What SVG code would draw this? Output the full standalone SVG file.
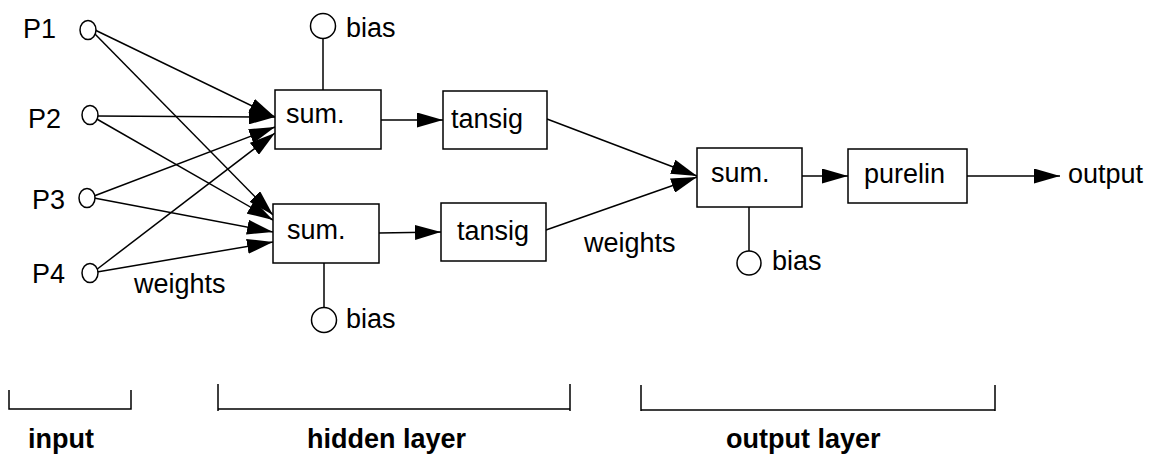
<svg xmlns="http://www.w3.org/2000/svg" width="1153" height="455" viewBox="0 0 1153 455">
<style>
  .t { font-family: "Liberation Sans", Arial, sans-serif; font-size: 27px; fill: #000; }
  .b { font-family: "Liberation Sans", Arial, sans-serif; font-size: 27px; font-weight: bold; fill: #000; }
  .box { fill: #fff; stroke: #000; stroke-width: 1.5; }
  .c { fill: #fff; stroke: #000; stroke-width: 1.5; }
  .ln { fill: none; stroke: #000; stroke-width: 1.5; }
  .ar { fill: none; stroke: #000; stroke-width: 1.5; marker-end: url(#ah); }
</style>
<defs>
  <marker id="ah" markerUnits="userSpaceOnUse" markerWidth="27" markerHeight="15" refX="26" refY="7.5" orient="auto">
    <path d="M0,0 L26,7.5 L0,15 z" fill="#000"/>
  </marker>
</defs>
<rect width="1153" height="455" fill="#fff"/>

<g id="connectors">
  <line class="ar" x1="95" y1="30" x2="275" y2="117"/>
  <line class="ar" x1="93" y1="32" x2="273" y2="215"/>
  <line class="ar" x1="97" y1="116" x2="275" y2="117"/>
  <line class="ar" x1="95" y1="118" x2="273" y2="220"/>
  <line class="ar" x1="94" y1="196" x2="275" y2="127"/>
  <line class="ar" x1="94" y1="198" x2="273" y2="232"/>
  <line class="ar" x1="96" y1="270" x2="275" y2="133"/>
  <line class="ar" x1="97" y1="272" x2="273" y2="242"/>
  <line class="ar" x1="381" y1="120" x2="443" y2="120"/>
  <line class="ar" x1="379" y1="233" x2="441" y2="232"/>
  <line class="ar" x1="547" y1="119" x2="697" y2="176"/>
  <line class="ar" x1="546" y1="230" x2="697" y2="177"/>
  <line class="ar" x1="802" y1="176" x2="848" y2="176"/>
  <line class="ar" x1="967" y1="176" x2="1060" y2="176"/>
  <line class="ln" x1="323" y1="39" x2="323" y2="90"/>
  <line class="ln" x1="324" y1="263" x2="324" y2="308"/>
  <line class="ln" x1="749" y1="207" x2="749" y2="251"/>
</g>

<g id="p1"><ellipse class="c" cx="88" cy="30" rx="8" ry="9.5"/><text class="t" x="23" y="38">P1</text></g>
<g id="p2"><ellipse class="c" cx="90" cy="115" rx="8" ry="9.5"/><text class="t" x="28" y="128">P2</text></g>
<g id="p3"><ellipse class="c" cx="87" cy="198" rx="8" ry="9.5"/><text class="t" x="32" y="209">P3</text></g>
<g id="p4"><ellipse class="c" cx="90" cy="273" rx="8" ry="9.5"/><text class="t" x="32" y="283">P4</text></g>

<g id="bias1"><circle class="c" cx="323" cy="26" r="12.5"/><text class="t" x="346" y="37">bias</text></g>
<g id="bias2"><circle class="c" cx="324" cy="320" r="12.5"/><text class="t" x="346" y="328">bias</text></g>
<g id="bias3"><circle class="c" cx="749" cy="263" r="12"/><text class="t" x="772" y="270">bias</text></g>

<g id="sum1"><rect class="box" x="275" y="90" width="106" height="59"/><text class="t" x="286" y="123">sum.</text></g>
<g id="sum2"><rect class="box" x="273" y="204" width="106" height="59"/><text class="t" x="287" y="239">sum.</text></g>
<g id="tansig1"><rect class="box" x="443" y="91" width="104" height="58"/><text class="t" x="451" y="128">tansig</text></g>
<g id="tansig2"><rect class="box" x="441" y="203" width="105" height="58"/><text class="t" x="457" y="240">tansig</text></g>
<g id="sum3"><rect class="box" x="697" y="148" width="105" height="59"/><text class="t" x="711" y="182">sum.</text></g>
<g id="purelin"><rect class="box" x="848" y="149" width="119" height="54"/><text class="t" x="864" y="183">purelin</text></g>
<g id="output"><text class="t" x="1068" y="183">output</text></g>

<g id="weights1"><text class="t" x="134" y="293">weights</text></g>
<g id="weights2"><text class="t" x="584" y="252">weights</text></g>

<g id="brackets">
  <path class="ln" d="M9,390 V409 H131 V390"/>
  <path class="ln" d="M218,384 V411 M218,409 H570 M570,384 V411"/>
  <path class="ln" d="M641,385 V411 M641,410 H995 M995,385 V411"/>
  <text class="b" x="28" y="448">input</text>
  <text class="b" x="307" y="448">hidden layer</text>
  <text class="b" x="726" y="448">output layer</text>
</g>
</svg>
